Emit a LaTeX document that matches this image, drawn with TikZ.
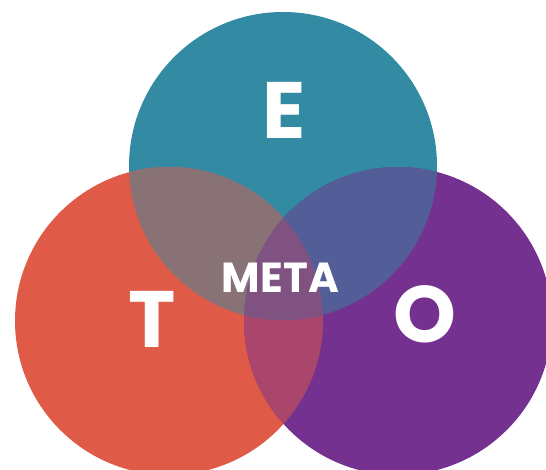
\documentclass[tikz,border=0pt]{standalone}
\usepackage{fontspec, tkz-euclide}
\setmainfont{Poppins}
\definecolor{tealE}{HTML}{338BA3}
\definecolor{redT}{HTML}{E05A48}
\definecolor{purpleO}{HTML}{74318F}
\colorlet{mixTE}{redT!50!tealE}
\colorlet{mixEO}{purpleO!50!tealE}
\colorlet{mixTO}{purpleO!50!redT}
\colorlet{mixTEO}{purpleO!50!mixTE}
\tikzset{letter/.style={text=white, inner sep=0pt, font=\fontsize{80}{80}\selectfont\bfseries},
    midword/.style={letter, font=\fontsize{42}{42}\selectfont\bfseries}}

\begin{document}
\begin{tikzpicture}[x=1pt, y=1pt]
    \useasboundingbox (0,0) rectangle (546,470);
    \clip (0,0) rectangle (546,470);
    \tkzDefPoints{283/304/E, 169/149/T, 398/149/O}
    \fill[tealE] (E) circle (154pt);
    \fill[redT] (T) circle (154pt);
    \fill[purpleO] (O) circle (154pt);
    % overlaps
    \begin{scope}
        \clip (T) circle (154pt);
        \fill[mixTO] (O) circle (154pt);
    \end{scope}
    \begin{scope}
        \clip (E) circle (154pt);
        \fill[mixTE] (T) circle (154pt);
        \fill[mixEO] (O) circle (154pt);
        \clip (T) circle (154pt);
        \fill[mixTEO] (O) circle (154pt);
    \end{scope}
    \node[letter] (lblE) at (284,360) {E};
    \node[letter] (lblT) at (152.5,151) {T};
    \node[letter] (lblO) at (424.5,156) {O};
    \node[midword] (lblM) at (280.5,192.5) {META};
\end{tikzpicture}
\end{document}
